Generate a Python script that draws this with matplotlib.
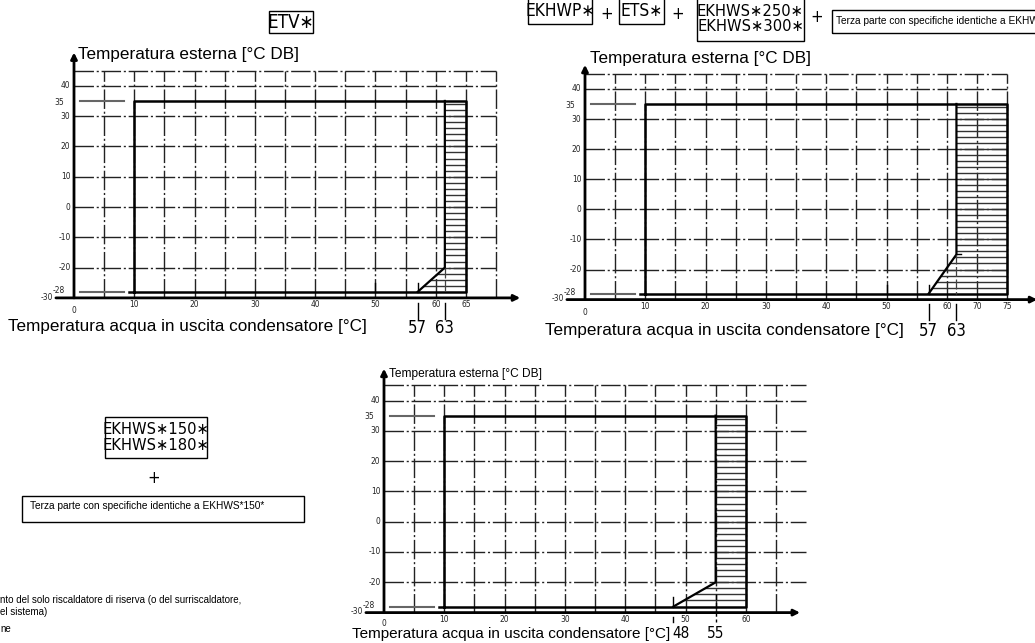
import numpy as np
import matplotlib
matplotlib.use("Agg")
import matplotlib.pyplot as plt
from matplotlib.patches import Polygon, Rectangle

W, H = 1035, 643

# outdoor temperature range of every envelope
amb_min, amb_max = -28, 35
water_min = 10

# ETV*, EKHWP*/ETS* + EKHWS*250/300*, EKHWS*150/180*
water_max = [65, 75, 60]        # right edge of the backup heater zone
hp_low = [57, 57, 48]           # heat pump limit at -28 °C
hp_max = [63, 63, 55]           # heat pump limit above the knee
knee = [-20, -15, -20]          # outdoor temp where the limit bends

x_tick_vals = [[10, 20, 30, 40, 50, 60, 65],
               [10, 20, 30, 40, 50, 60, 70, 75],
               [10, 20, 30, 40, 50, 60]]
y_tick_vals = [40, 30, 20, 10, 0, -10, -20]

grid_x = [list(range(5, 75, 5)),
          list(range(5, 65, 5)) + [70, 75],
          list(range(5, 70, 5))]
grid_right = [70, 75, 70]
grid_y = [45, 40, 30, 20, 10, 0, -10, -20]

# the drawing is not to scale near the upper end of the water axis
x_knots = [([-100, 60, 63, 65, 200], [-100, 60, 61.5, 65, 200]),
           ([-100, 60, 63, 70, 75, 200], [-100, 60, 61.6, 65, 70, 195]),
           ([-100, 200], [-100, 200])]

# pixel origin and pixel per unit of each panel
panels = [(74, 207.0, 6.03, 3.03),
          (585, 209.3, 6.03, 3.01),
          (384, 521.7, 6.03, 3.03)]

NARROW = ['Liberation Sans Narrow', 'DejaVu Sans']
SANS = ['Liberation Sans', 'DejaVu Sans']
GRID_DASH = (0, (14, 2, 1.5, 2))

fig = plt.figure(figsize=(W / 100, H / 100), dpi=100)


def px(x, y):
    return x / W, 1 - y / H


def make_axes(i, xlo=-13, xhi=76, ylo=-42, yhi=52):
    ox, oy, sx, sy = panels[i]
    left, right = ox + xlo * sx, ox + xhi * sx
    top, bottom = oy - yhi * sy, oy - ylo * sy
    ax = fig.add_axes([left / W, 1 - bottom / H, (right - left) / W, (bottom - top) / H])
    dk, ck = x_knots[i]
    fwd = lambda v: np.interp(v, dk, ck)
    inv = lambda v: np.interp(v, ck, dk)
    ax.set_xscale('function', functions=(fwd, inv))
    ax.set_xlim(inv(xlo), inv(xhi))
    ax.set_ylim(ylo, yhi)
    ax.axis('off')
    ax.patch.set_alpha(0)
    return ax


def draw_panel(i, axis_top, axis_right, small=False):
    ax = make_axes(i)
    xr = grid_right[i]
    # dash-dot grid
    for gx in grid_x[i]:
        ax.plot([gx, gx], [-30, 45], color='#222', lw=1.0, ls=GRID_DASH, zorder=1)
    for gy in grid_y:
        ax.plot([0, xr], [gy, gy], color='#222', lw=1.0, ls=GRID_DASH, zorder=1)

    # extension lines of the outdoor limits
    for yy in (amb_max, amb_min):
        ax.plot([1.0, 8.3], [yy, yy], color='#666', lw=1.5, zorder=2)

    # operating range
    wm, lo, hm, kn = water_max[i], hp_low[i], hp_max[i], knee[i]
    ax.plot([water_min, water_min, wm, wm, 9.2],
            [amb_min, amb_max, amb_max, amb_min, amb_min], color='black', lw=1.8, zorder=4)
    ax.plot([lo, hm, hm], [amb_min, kn, amb_max], color='black', lw=1.6, zorder=4)

    # hatched zone: backup heater only
    zone = Polygon([(lo, amb_min), (hm, kn), (hm, amb_max), (wm, amb_max), (wm, amb_min)],
                   closed=True, fill=False, lw=0)
    ax.add_patch(zone)
    hl = ax.hlines(np.arange(amb_min + 2, amb_max, 2), lo - 1, wm,
                   colors='#333', lw=1.0, zorder=3)
    hl.set_clip_path(zone)

    # short marks on the lower limit
    ax.plot([lo, lo], [amb_min, -25], color='black', lw=1.0, zorder=4)
    if i < 2:
        ax.plot([50, 50], [amb_min, -25], color='black', lw=1.0, zorder=4)
        ax.plot([hm, hm], [kn, amb_min], color='#444', lw=0.9, ls=(0, (8, 2)), zorder=4)
    else:
        ax.plot([hm, hm], [-24, -33], color='black', lw=1.0, ls=(0, (4, 2)), zorder=4)
    if i == 1:
        ax.plot([hm, 64.5], [kn, kn], color='black', lw=1.0, zorder=4)

    # axes with arrow heads
    ax.annotate('', xy=(0, axis_top), xytext=(0, -30),
                arrowprops=dict(arrowstyle='-|>', lw=2.0, color='black', mutation_scale=9,
                                shrinkA=0, shrinkB=0), zorder=5)
    ax.annotate('', xy=(axis_right, -30), xytext=(-3, -30),
                arrowprops=dict(arrowstyle='-|>', lw=2.0, color='black', mutation_scale=9,
                                shrinkA=0, shrinkB=0), zorder=5)

    # tick labels
    tk = dict(fontsize=6, family=NARROW, stretch='condensed', color='#222')
    for v in y_tick_vals:
        ax.text(-0.6, v, str(v), ha='right', va='center', **tk)
    ax.text(-1.7, 34.6, '35', ha='right', va='center', **tk)
    ax.text(-1.5, -27.5, '-28', ha='right', va='center', **tk)
    ax.text(-3.5, -29.8, '-30', ha='right', va='center', **tk)
    for v in x_tick_vals[i]:
        ax.text(v, -32.2, str(v), ha='center', va='center', **tk)
    ax.text(0, -33.6 if small else -34.2, '0', ha='center', va='center', **tk)

    # dimension marks below the water axis
    ox, oy, sx, sy = panels[i]
    dim = dict(family=NARROW, stretch='condensed', ha='center', va='center')
    if not small:
        ax.plot([lo, lo], [-31.6, -36.8], color='black', lw=1.0)
        ax.plot([hm, hm], [-31.6, -36.8], color='black', lw=1.0)
        ly = (oy - (328 if i == 0 else 331)) / sy
        ax.text(lo, ly, str(lo), fontsize=12, **dim)
        ax.text(hm, ly, str(hm), fontsize=12, **dim)
    else:
        ax.plot([lo, lo], [-31.3, -33.2], color='black', lw=1.0)
        ly = (oy - 633) / sy
        ax.text(lo + 1.2, ly, str(lo), fontsize=11, **dim)
        ax.text(hm, ly, str(hm), fontsize=11, **dim)
    return ax


draw_panel(0, 51, 74)
draw_panel(1, 48, 80)
draw_panel(2, 50.5, 69, small=True)

# axis titles
fig.text(*px(78, 54), 'Temperatura esterna [°C DB]', fontsize=12.3, family=SANS, va='center')
fig.text(*px(8, 326), 'Temperatura acqua in uscita condensatore [°C]', fontsize=12.3,
         family=SANS, va='center')
fig.text(*px(590, 59), 'Temperatura esterna [°C DB]', fontsize=12.3, family=SANS, va='center')
fig.text(*px(545, 330), 'Temperatura acqua in uscita condensatore [°C]', fontsize=12.3,
         family=SANS, va='center')
fig.text(*px(389, 374), 'Temperatura esterna [°C DB]', fontsize=8.6, family=SANS, va='center')
fig.text(*px(352, 634), 'Temperatura acqua in uscita condensatore [°C]', fontsize=11,
         family=SANS, va='center')


def box(x0, y0, x1, y1, lw=1.0):
    fig.add_artist(Rectangle(px(x0, y1), (x1 - x0) / W, (y1 - y0) / H,
                             transform=fig.transFigure, fill=False, lw=lw, color='black'))


def model(cx, cy, label, size=11.8):
    fig.text(*px(cx, cy), label, fontsize=size, family=NARROW, stretch='condensed',
             ha='center', va='center', linespacing=1.0)


# model combinations
box(269, 11, 313, 33)
model(291, 22, 'ETV∗', 13.5)

box(528, -2, 592, 24)
model(560, 11, 'EKHWP∗', 12.5)
model(607, 14, '+', 12)
box(619, -2, 664, 24)
model(641.5, 11, 'ETS∗', 12.5)
model(678, 14, '+', 12)
box(697, -2, 804, 41)
model(750.5, 19, 'EKHWS∗250∗\nEKHWS∗300∗')
model(817, 17, '+', 12)
box(832, 10, 1045, 33)
fig.text(*px(836, 21.5), 'Terza parte con specifiche identiche a EKHWS*250*', fontsize=7.3,
         family=SANS, va='center')

box(105, 417, 207, 458)
model(156, 437.5, 'EKHWS∗150∗\nEKHWS∗180∗')
model(154, 478, '+', 12)
box(22, 496, 304, 522)
fig.text(*px(30, 506), 'Terza parte con specifiche identiche a EKHWS*150*', fontsize=7.3,
         family=SANS, va='center')

# legend notes at the lower left
notes = ['nto del solo riscaldatore di riserva (o del surriscaldatore,', 'el sistema)', 'ne']
for yy, t in zip([600, 612, 629], notes):
    fig.text(*px(0, yy), t, fontsize=7, family=SANS, va='center')

fig.savefig('out.png', dpi=100)
